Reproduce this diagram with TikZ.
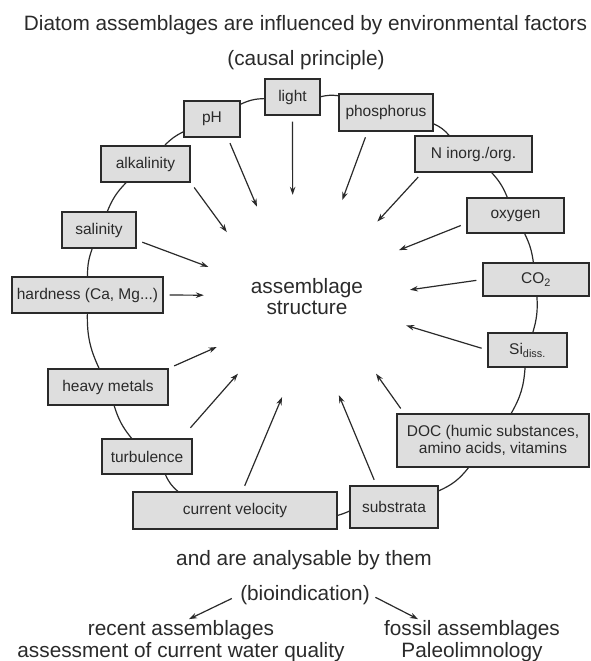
\documentclass[tikz,border=0pt]{standalone}
\usepackage{fontspec}
\setmainfont{Liberation Sans}
\usetikzlibrary{positioning, arrows.meta}

\definecolor{boxgray}{HTML}{DEDEDE}
\definecolor{inkgray}{HTML}{2A2A2A}

\begin{document}
\begin{tikzpicture}[
  x=1pt, y=-1pt,
  color=inkgray,
  factor/.style={rectangle, draw=inkgray, line width=1.3pt, fill=boxgray, minimum height=36pt, inner sep=2pt, align=center, font=\fontsize{15.5}{17}\selectfont},
  big/.style={font=\fontsize{20.8}{22}\selectfont, align=center, inner sep=1pt},
  ring/.style={line width=1.2pt},
  arr/.style={-{Stealth[length=8pt, width=5.5pt]}, line width=1.2pt, shorten <=6pt}
]
  \useasboundingbox (0,0) rectangle (590,661);

  \node[big] (title) at (305.5,25) {Diatom assemblages are influenced by environmental factors};
  \node[big] (causal) at (306,60) {(causal principle)};

  % factors round the ring
  \node[factor, minimum width=55pt] (light) at (292.5,97) {light};
  \node[factor, minimum width=56pt] (ph) at (212,119) {pH};
  \node[factor, minimum width=94pt, minimum height=37pt] (phos) at (386,112.5) {phosphorus};
  \node[factor, minimum width=117pt] (nitro) at (473.5,154) {N inorg./org.};
  \node[factor, minimum width=89pt] (alk) at (145.5,164) {alkalinity};
  \node[factor, minimum width=74pt] (sal) at (99,230) {salinity};
  \node[factor, minimum width=97pt, minimum height=35pt] (oxy) at (515.5,215.5) {oxygen};
  \node[factor, minimum width=151pt] (hard) at (87.5,295) {hardness (Ca, Mg...)};
  \node[factor, minimum width=106pt, minimum height=33pt] (co2) at (536,279.5) {CO\textsubscript{2}};
  \node[factor, minimum width=79pt, minimum height=34pt] (si) at (527.5,350) {Si\textsubscript{diss.}};
  \node[factor, minimum width=120pt] (metal) at (108,387) {heavy metals};
  \node[factor, minimum width=192pt, minimum height=53pt] (doc) at (493,440.5) {DOC (humic substances,\\amino acids, vitamins};
  \node[factor, minimum width=90pt, minimum height=35pt] (turb) at (147,456.5) {turbulence};
  \node[factor, minimum width=204pt, minimum height=37pt] (velo) at (235,510.5) {current velocity};
  \node[factor, minimum width=88pt, minimum height=42pt] (subst) at (394,507) {substrata};

  \node[circle, minimum size=206pt, inner sep=0pt, font=\fontsize{20.8}{21}\selectfont, align=center] (core) at (307,297) {assemblage\\structure};

  % ring
  \draw[ring] (light) to[bend right=12] (ph);
  \draw[ring] (ph) to[bend right=10] (alk);
  \draw[ring] (alk) to[bend right=11] (sal);
  \draw[ring] (sal) to[bend right=10] (hard);
  \draw[ring] (hard) to[bend right=13] (metal);
  \draw[ring] (metal) to[bend right=11] (turb);
  \draw[ring] (turb) to[bend right=13] (velo);
  \draw[ring] (velo) to[bend right=4] (subst);
  \draw[ring] (subst) to[bend right=14] (doc);
  \draw[ring] (doc) to[bend right=13] (si);
  \draw[ring] (si) to[bend right=10] (co2);
  \draw[ring] (co2) to[bend right=9] (oxy);
  \draw[ring] (oxy) to[bend right=10] (nitro);
  \draw[ring] (nitro) to[bend right=12] (phos);
  \draw[ring] (phos) to[bend right=10] (light);

  % influences
  \draw[arr] (light.south) -- (core.98);
  \draw[arr] (ph.-50) -- (core.119);
  \draw[arr] (phos.-134) -- (core.70);
  \draw[arr] (nitro.-160) -- (core.47);
  \draw[arr] (oxy.189) -- (core.27);
  \draw[arr] (co2.west) -- (core.4);
  \draw[arr] (si.west) -- (core.-16);
  \draw[arr] (doc.163) -- (core.-48);
  \draw[arr] (subst.129) -- (core.-72);
  \draw[arr] (velo.69) -- (core.256);
  \draw[arr, shorten <=14pt] (turb.28) -- (core.228);
  \draw[arr] (metal.north east) -- (core.209);
  \draw[arr] (hard.east) -- (core.179);
  \draw[arr] (sal.-15) -- (core.163);
  \draw[arr] (alk.south east) -- (core.141);

  \node[big] (analyse) at (304,560) {and are analysable by them};
  \node[big] (bio) at (305,595) {(bioindication)};
  \node[big] (recent) at (181,641) {recent assemblages\\assessment of current water quality};
  \node[big] (fossil) at (472,641) {fossil assemblages\\Paleolimnology};
  \draw[arr, shorten <=8pt] (bio.west) -- ([xshift=8pt]recent.north);
  \draw[arr, shorten <=5pt] (bio.east) -- ([xshift=-54pt]fossil.north);
\end{tikzpicture}
\end{document}
